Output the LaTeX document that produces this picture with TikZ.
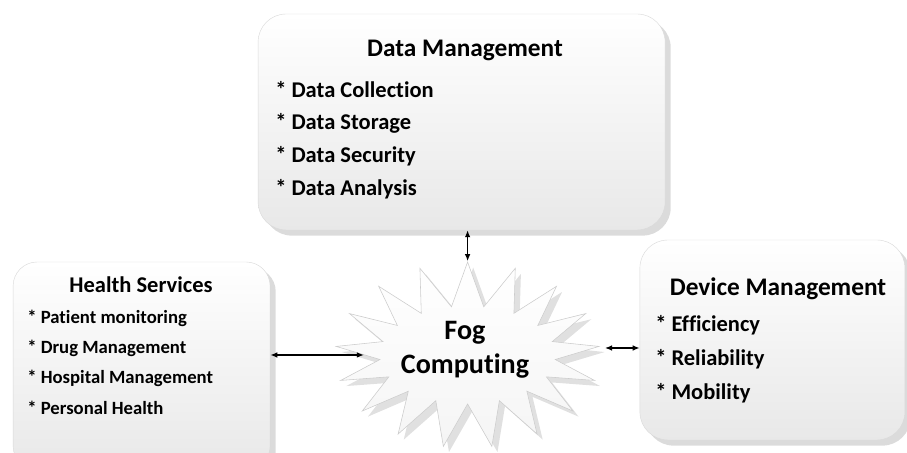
\documentclass[tikz,border=0pt]{standalone}
\usepackage{fontspec}
\setmainfont{Carlito}[Ligatures=NoCommon]
\usepackage{tikz}
\usetikzlibrary{shapes,shapes.symbols,arrows.meta,positioning,calc,shadows}

\tikzset{
    panel/.style={rounded corners=0.7cm, top color=white, bottom color=gray!18,
        draw=gray!30, line width=0.3pt,
        drop shadow={shadow xshift=4pt, shadow yshift=-4pt, opacity=0.35, fill=gray!80}},
    paneltitle/.style={font=\bfseries\fontsize{18}{21}\selectfont},
    paneltitlesm/.style={font=\bfseries\fontsize{16}{19}\selectfont},
    item/.style={anchor=west, inner sep=0pt, font=\bfseries\fontsize{16}{19}\selectfont},
    itemsm/.style={anchor=west, inner sep=0pt, font=\bfseries\fontsize{13.3}{16}\selectfont},
    biarrow/.style={{Latex[length=5pt,width=4pt]}-{Latex[length=5pt,width=4pt]}, line width=0.9pt}
}

\begin{document}
\begin{tikzpicture}
    \useasboundingbox (0,0) rectangle (22.675,11.325);

    % Data Management
    \node[panel, minimum width=10.175cm, minimum height=5.4cm] (dm) at (11.54,8.275) {};
    \node[paneltitle] (dmtitle) at (11.625,10.075) {Data Management};
    \foreach \txt [count=\i] in {Data Collection,Data Storage,Data Security,Data Analysis} {
        \node[item] (dm\i) at (6.875,9.075-0.83*\i+0.83) {* \txt};
    }

    % Health Services
    \node[panel, rounded corners=0.6cm, minimum width=6.425cm, minimum height=5.2cm] (hs) at (3.54,2.175) {};
    \node[paneltitlesm] (hstitle) at (3.525,4.2) {Health Services};
    \foreach \txt [count=\i] in {Patient monitoring,Drug Management,Hospital Management,Personal Health} {
        \node[itemsm] (hs\i) at (0.675,3.375-0.75*\i+0.75) {* \txt};
    }

    % Device Management
    \node[panel, minimum width=6.625cm, minimum height=5cm] (dev) at (19.31,2.825) {};
    \node[paneltitle] (devtitle) at (19.45,4.1) {Device Management};
    \foreach \txt [count=\i] in {Efficiency,Reliability,Mobility} {
        \node[item] (dev\i) at (16.375,3.2-0.85*\i+0.85) {* \txt};
    }

    % Fog Computing
    \node[starburst, random starburst=0, starburst points=17, starburst point height=1.1cm,
        minimum width=6.6cm, minimum height=4.65cm, top color=white, bottom color=gray!8, draw=gray!40,
        drop shadow={shadow xshift=4pt, shadow yshift=-4pt, opacity=0.3, fill=gray!80}] (fog) at (11.69,2.45) {};
    \node[align=center, font=\bfseries\fontsize{20}{24}\selectfont] (fogtext) at (11.625,2.575) {Fog\\Computing};
    \coordinate (fogright) at (15.125,2.625);

    % links
    \draw[biarrow] (dm.south -| fog.north) -- (fog.north);
    \draw[biarrow] (fog.west -| hs.east) -- (fog.west);
    \draw[biarrow] (fogright) -- (fogright -| dev.west);
\end{tikzpicture}
\end{document}
